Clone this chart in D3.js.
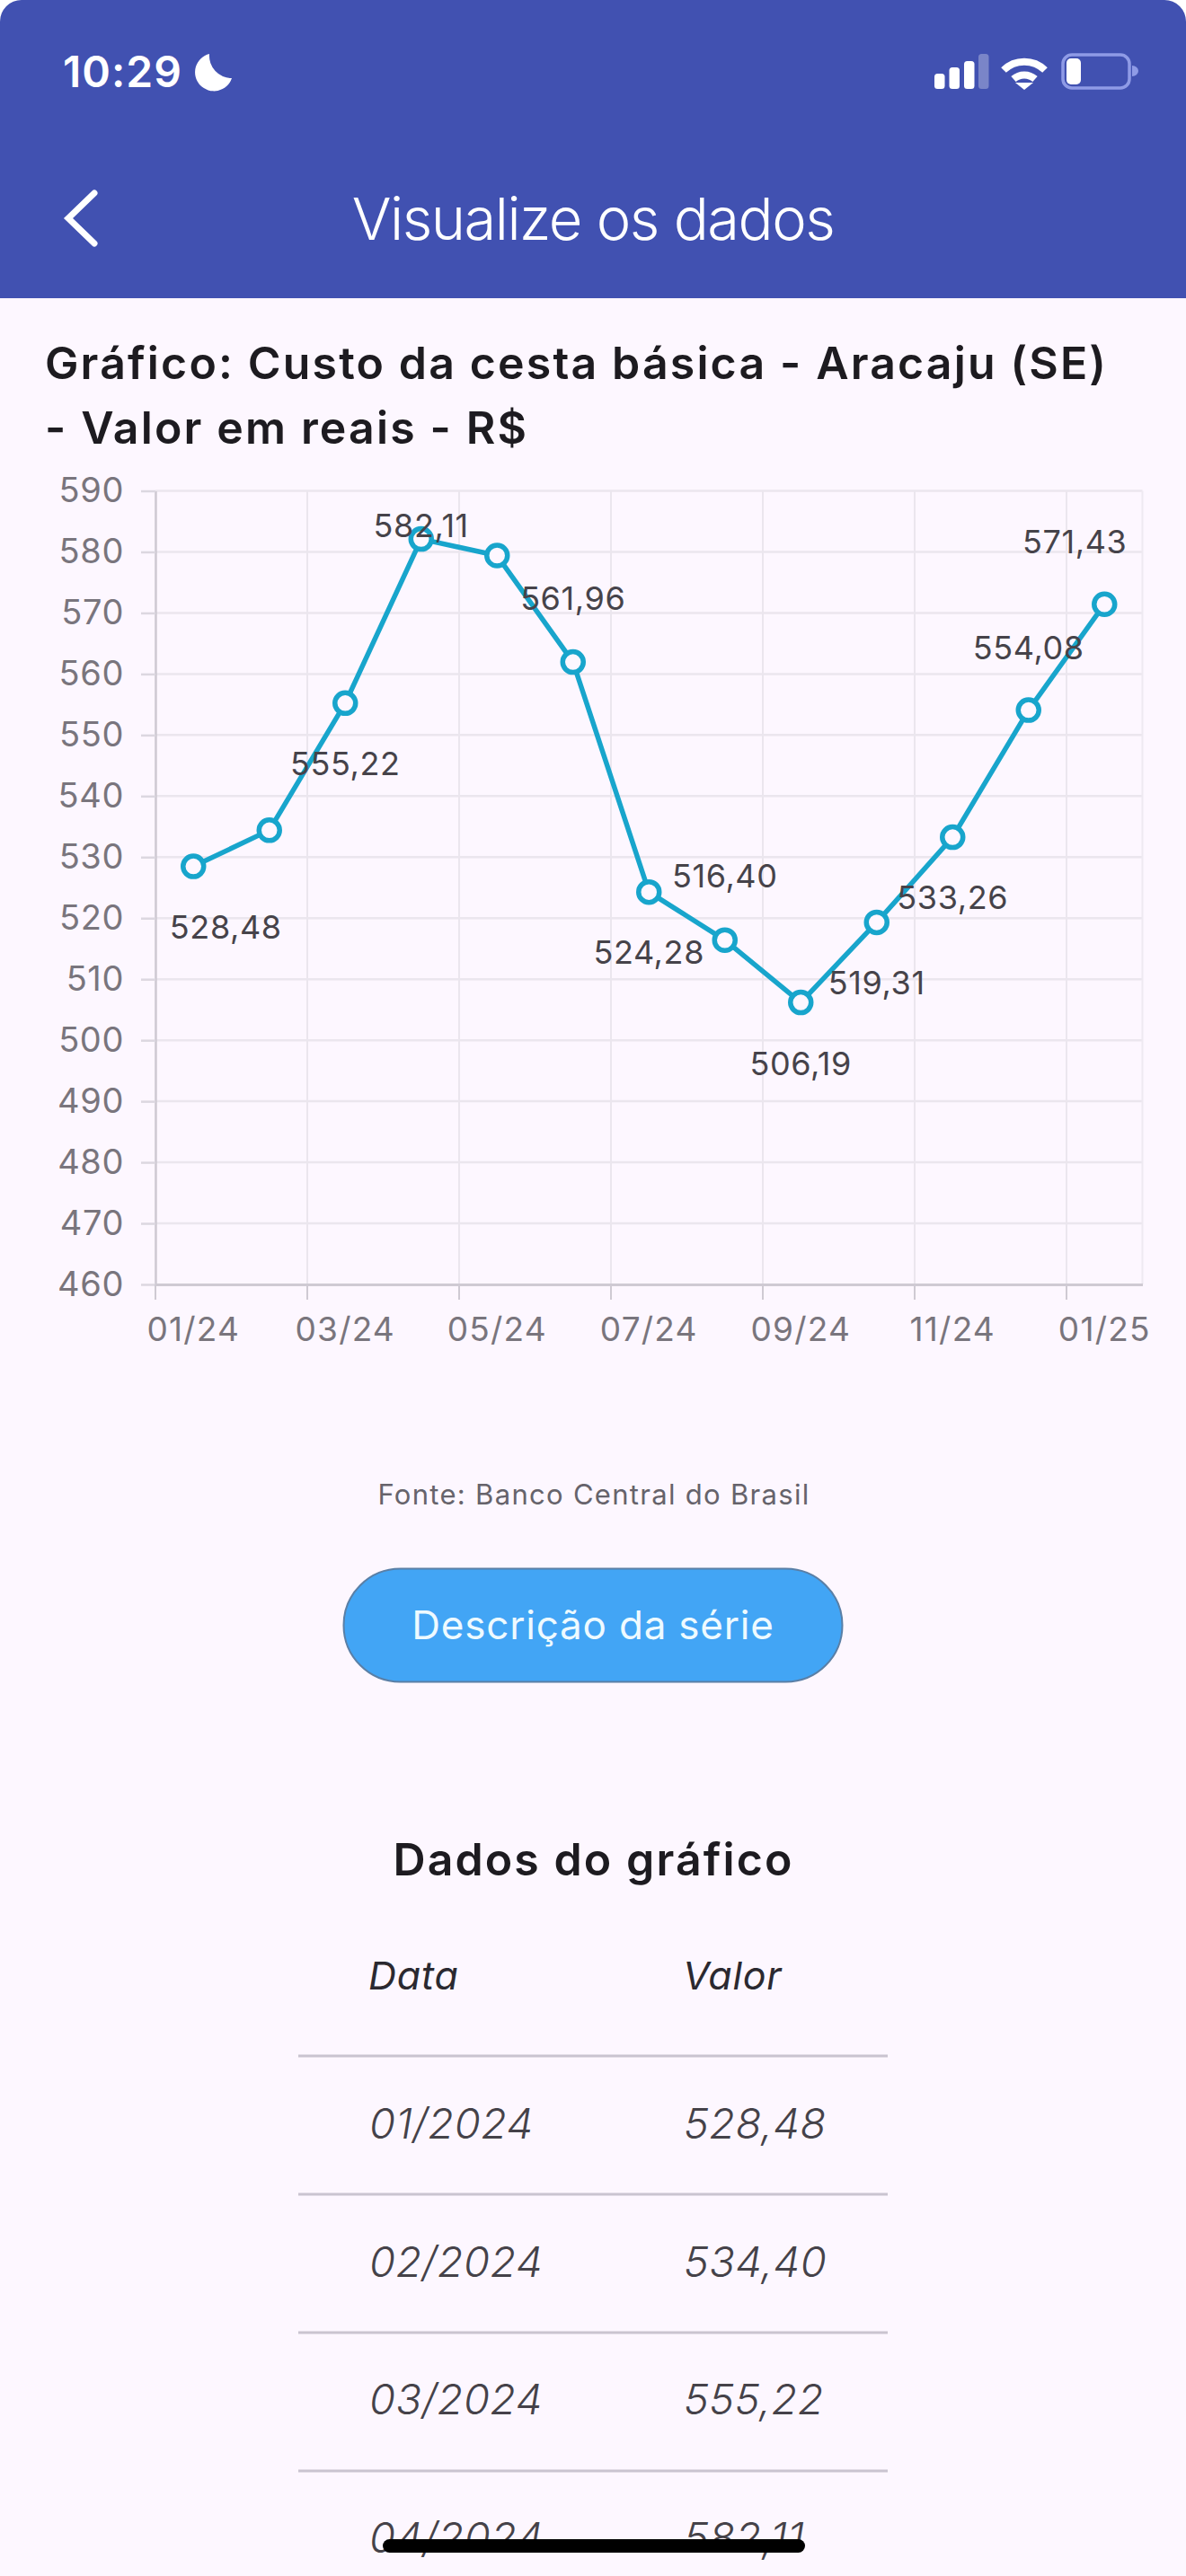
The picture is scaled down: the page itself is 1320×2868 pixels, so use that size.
<!DOCTYPE html>
<html lang="pt-BR">
<head>
<meta charset="utf-8">
<title>Visualize os dados</title>
<script src="https://cdn.jsdelivr.net/npm/d3@7"></script>
<style>
    html, body { margin: 0; padding: 0; background: #fdf7ff; }
    svg { display: block; font-family: Inter, "Noto Sans", sans-serif; }
</style>
</head>
<body>
<div id="chart-container"></div>
<script>
// Chart data
const months = ['01/24', '02/24', '03/24', '04/24', '05/24', '06/24', '07/24', '08/24', '09/24', '10/24', '11/24', '12/24', '01/25']
const values = [528.48, 534.40, 555.22, 582.11, 579.40, 561.96, 524.28, 516.40, 506.19, 519.31, 533.26, 554.08, 571.43]
const xTickLabels = ['01/24', '03/24', '05/24', '07/24', '09/24', '11/24', '01/25']
const yTicks = [460, 470, 480, 490, 500, 510, 520, 530, 540, 550, 560, 570, 580, 590]

// Table at the bottom
const tableHeader = ['Data', 'Valor']
const tableDates = ['01/2024', '02/2024', '03/2024', '04/2024']
const tableValues = [528.48, 534.40, 555.22, 582.11]

// Where each value label sits: dx, dy from its point. null means the label is hidden
const labelOffsets = [[36, 80], null, [0, 80], [0, -2], null, [0, -58], [0, 80], [0, -59], [0, 81], [0, 80], [0, 80], [0, -57], [-33, -57]]

const width = 1320
const height = 2868
const plot = { left: 173, right: 1271.5, top: 546.5, bottom: 1430 }
const bg = '#fdf7ff'
const lineColor = '#18a5cc'

const ptBR = d3.formatLocale({ decimal: ',', thousands: '.', grouping: [3], currency: ['R$', ''] })
const fmt = ptBR.format('.2f')

const svg = d3.select('#chart-container')
    .append('svg')
    .attr('width', width)
    .attr('height', height)
    .attr('viewBox', '0 0 ' + width + ' ' + height)

svg.append('rect').attr('width', width).attr('height', height).attr('fill', bg)

function drawHeader() {
    svg.append('rect').attr('width', width).attr('height', 332).attr('fill', '#ffffff')
    svg.append('path')
        .attr('d', 'M0 332V24A24 24 0 0 1 24 0H1296A24 24 0 0 1 1320 24V332Z')
        .attr('fill', '#4151b1')

    svg.append('text')
        .attr('x', 70).attr('y', 97)
        .attr('font-size', 48).attr('font-weight', 600)
        .attr('letter-spacing', 1)
        .attr('fill', '#fff')
        .text('10:29')

    // moon
    svg.append('path')
        .attr('d', 'M233 60A21 21 0 1 0 258 87A25 25 0 0 1 233 60Z')
        .attr('fill', '#fff')

    // signal bars
    const bars = [[1040, 82, 1], [1056.5, 75, 1], [1073, 68, 1], [1089, 60, 0.3]]
    svg.selectAll('.bar').data(bars).enter().append('rect')
        .attr('class', 'bar')
        .attr('x', d => d[0]).attr('y', d => d[1])
        .attr('width', 11.5).attr('height', d => 99 - d[1]).attr('rx', 3.5)
        .attr('fill', '#fff').attr('opacity', d => d[2])

    // wifi
    const wifi = svg.append('g').attr('fill', 'none').attr('stroke', '#fff').attr('stroke-width', 8)
    wifi.append('path').attr('d', 'M1117 78A33 33 0 0 1 1163 78')
    wifi.append('path').attr('d', 'M1128 88A18 18 0 0 1 1152 88')
    svg.append('path').attr('d', 'M1130 92L1150 92L1140 100Z').attr('fill', '#fff')

    // battery
    svg.append('rect').attr('x', 1183).attr('y', 61).attr('width', 74).attr('height', 37).attr('rx', 10)
        .attr('fill', 'none').attr('stroke', '#8f9be6').attr('stroke-width', 3.5)
    svg.append('rect').attr('x', 1187).attr('y', 65).attr('width', 16).attr('height', 29).attr('rx', 5).attr('fill', '#fff')
    svg.append('path').attr('d', 'M1260 73A7 6 0 0 1 1260 85Z').attr('fill', '#8f9be6')

    // back arrow
    svg.append('path')
        .attr('d', 'M105 215L76 243L105 271')
        .attr('fill', 'none').attr('stroke', '#fff').attr('stroke-width', 7).attr('stroke-linecap', 'round')

    svg.append('text')
        .attr('x', 660).attr('y', 267)
        .attr('text-anchor', 'middle')
        .attr('font-size', 65).attr('font-weight', 300)
        .attr('letter-spacing', -1.5)
        .attr('fill', '#fff')
        .text('Visualize os dados')
}

function drawTitle() {
    const lines = ['Gráfico: Custo da cesta básica - Aracaju (SE)', '- Valor em reais - R$']
    svg.selectAll('.title-line').data(lines).enter().append('text')
        .attr('class', 'title-line')
        .attr('x', 50)
        .attr('y', (d, i) => 422 + i * 72)
        .attr('font-size', 50).attr('font-weight', 600)
        .attr('letter-spacing', 2.15)
        .attr('fill', '#1d1b20')
        .text(d => d)
}

function drawChart() {
    const xScale = d3.scaleBand().domain(months).range([plot.left, plot.right])
    const yScale = d3.scaleLinear().domain([460, 590]).range([plot.bottom, plot.top])
    const xCenter = m => xScale(m) + xScale.bandwidth() / 2

    const points = months.map((m, i) => ({ month: m, value: values[i], offset: labelOffsets[i] }))

    // grid
    const xGrid = months.filter((m, i) => i % 2 === 0)
    svg.append('g').selectAll('line').data(yTicks.slice(1)).enter().append('line')
        .attr('x1', plot.left).attr('x2', plot.right)
        .attr('y1', d => yScale(d)).attr('y2', d => yScale(d))
        .attr('stroke', '#ebe6ee').attr('stroke-width', 2.5)
    svg.append('g').selectAll('line').data(xGrid).enter().append('line')
        .attr('x1', d => xScale(d)).attr('x2', d => xScale(d))
        .attr('y1', plot.top).attr('y2', plot.bottom)
        .attr('stroke', '#ebe6ee').attr('stroke-width', 2)
    svg.append('line')
        .attr('x1', plot.right).attr('x2', plot.right)
        .attr('y1', plot.top).attr('y2', plot.bottom)
        .attr('stroke', '#eee9f1').attr('stroke-width', 2)

    // axes
    const yAxis = d3.axisLeft(yScale).tickValues(yTicks).tickSize(16).tickPadding(19).tickSizeOuter(0)
    const yG = svg.append('g')
        .attr('transform', 'translate(' + plot.left + ', 0)')
        .call(yAxis)
    yG.select('.domain').attr('stroke', '#cfcad3').attr('stroke-width', 2.5)
    yG.selectAll('.tick line').attr('stroke', '#dcd7e0').attr('stroke-width', 2.5)
    yG.selectAll('.tick text')
        .attr('font-size', 38).attr('font-family', 'Inter').attr('letter-spacing', 0.6).attr('fill', '#79757d')

    const xAxis = d3.axisBottom(xScale).tickValues(xTickLabels).tickSize(0).tickPadding(37).tickSizeOuter(0)
    const xG = svg.append('g')
        .attr('transform', 'translate(0, ' + plot.bottom + ')')
        .call(xAxis)
    xG.select('.domain').attr('stroke', '#cfcad3').attr('stroke-width', 3)
    xG.selectAll('.tick text')
        .attr('font-size', 37).attr('font-family', 'Inter').attr('letter-spacing', 1.2).attr('fill', '#79757d')
    // the ticks sit on the band edges, the labels in the band middle
    xG.selectAll('.tick').append('line')
        .attr('x1', -xScale.bandwidth() / 2).attr('x2', -xScale.bandwidth() / 2)
        .attr('y1', 0).attr('y2', 17)
        .attr('stroke', '#cfcad3').attr('stroke-width', 2)

    // series
    const line = d3.line()
        .x(d => xCenter(d.month))
        .y(d => yScale(d.value))
    svg.append('path')
        .datum(points)
        .attr('d', line)
        .attr('fill', 'none')
        .attr('stroke', lineColor)
        .attr('stroke-width', 5.5)
        .attr('stroke-linejoin', 'round')

    svg.selectAll('.point').data(points).enter().append('circle')
        .attr('class', 'point')
        .attr('cx', d => xCenter(d.month))
        .attr('cy', d => yScale(d.value))
        .attr('r', 11.5)
        .attr('fill', bg)
        .attr('stroke', lineColor)
        .attr('stroke-width', 5.5)

    // value labels, two of them are hidden in the original
    svg.selectAll('.value-label').data(points.filter(d => d.offset)).enter().append('text')
        .attr('class', 'value-label')
        .attr('x', d => xCenter(d.month) + d.offset[0])
        .attr('y', d => yScale(d.value) + d.offset[1])
        .attr('text-anchor', 'middle')
        .attr('font-size', 36)
        .attr('letter-spacing', 0.6)
        .attr('fill', '#46434a')
        .text(d => fmt(d.value))
}

function drawFooter() {
    svg.append('text')
        .attr('x', 661).attr('y', 1675)
        .attr('text-anchor', 'middle')
        .attr('font-size', 31).attr('letter-spacing', 1.3)
        .attr('fill', '#66636b')
        .text('Fonte: Banco Central do Brasil')

    svg.append('rect')
        .attr('x', 382.5).attr('y', 1746.5).attr('width', 555).attr('height', 126).attr('rx', 63)
        .attr('fill', '#42a5f5').attr('stroke', '#5a7fa6').attr('stroke-width', 2)
    svg.append('text')
        .attr('x', 660).attr('y', 1825)
        .attr('text-anchor', 'middle')
        .attr('font-size', 44).attr('letter-spacing', 0.8)
        .attr('fill', '#eefaff')
        .text('Descrição da série')
}

function drawTable() {
    svg.append('text')
        .attr('x', 660.5).attr('y', 2088)
        .attr('text-anchor', 'middle')
        .attr('font-size', 50).attr('font-weight', 600).attr('letter-spacing', 2.1)
        .attr('fill', '#1d1b20')
        .text('Dados do gráfico')

    const columnX = d3.scaleOrdinal().domain([0, 1]).range([410, 760])
    svg.selectAll('.head').data(tableHeader).enter().append('text')
        .attr('class', 'head')
        .attr('x', (d, i) => columnX(i)).attr('y', 2215)
        .attr('font-size', 43).attr('font-style', 'italic').attr('letter-spacing', 0.8)
        .attr('fill', '#2b2930')
        .text(d => d)

    const rowY = d3.scaleLinear().domain([0, 3]).range([2381, 2842])
    const ruleY = d3.scaleLinear().domain([0, 3]).range([2289, 2751])
    svg.selectAll('.rule').data(tableDates).enter().append('line')
        .attr('class', 'rule')
        .attr('x1', 332).attr('x2', 988)
        .attr('y1', (d, i) => ruleY(i)).attr('y2', (d, i) => ruleY(i))
        .attr('stroke', '#cac4d0').attr('stroke-width', 3)
    svg.selectAll('.cell-date').data(tableDates).enter().append('text')
        .attr('class', 'cell-date')
        .attr('x', columnX(0) + 1).attr('y', (d, i) => rowY(i))
        .attr('font-size', 47).attr('font-style', 'italic').attr('font-weight', 300).attr('letter-spacing', 0.5)
        .attr('fill', '#454249')
        .text(d => d)
    svg.selectAll('.cell-value').data(tableValues).enter().append('text')
        .attr('class', 'cell-value')
        .attr('x', columnX(1) + 1).attr('y', (d, i) => rowY(i))
        .attr('font-size', 47).attr('font-style', 'italic').attr('font-weight', 300).attr('letter-spacing', 0.5)
        .attr('fill', '#454249')
        .text(d => fmt(d))

    // home indicator
    svg.append('rect')
        .attr('x', 426).attr('y', 2827).attr('width', 470).attr('height', 15).attr('rx', 7.5)
        .attr('fill', '#000')
}

drawHeader()
drawTitle()
drawChart()
drawFooter()
drawTable()
</script>
</body>
</html>
